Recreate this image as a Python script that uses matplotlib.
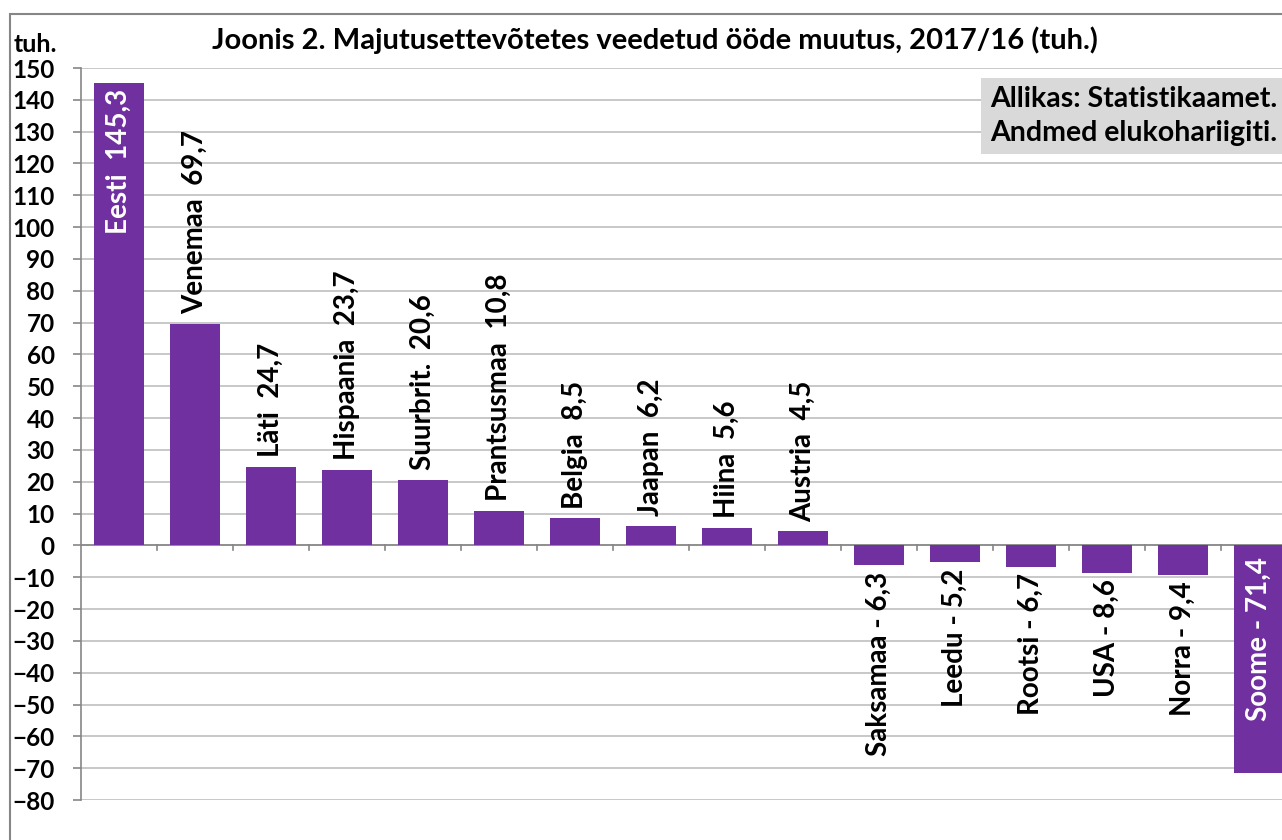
import matplotlib
matplotlib.use('Agg')
import matplotlib.pyplot as plt
import numpy as np
from matplotlib.patches import Rectangle

plt.rcParams['font.family'] = ['Lato', 'DejaVu Sans']
plt.rcParams['font.weight'] = 'bold'

# data
countries = ["Eesti", "Venemaa", "Läti", "Hispaania", "Suurbrit.", "Prantsusmaa",
             "Belgia", "Jaapan", "Hiina", "Austria", "Saksamaa", "Leedu",
             "Rootsi", "USA", "Norra", "Soome"]
values = [145.3, 69.7, 24.7, 23.7, 20.6, 10.8, 8.5, 6.2, 5.6, 4.5,
          -6.3, -5.2, -6.7, -8.6, -9.4, -71.4]

purple = '#7030A0'
grid_col = '#BFBFBF'
lab_fs = 20

fig = plt.figure(figsize=(12.82, 8.4), dpi=100)
ax = fig.add_axes([81 / 1282, 1 - 800 / 840, 1216 / 1282, 732 / 840])

x = np.arange(len(values))
ax.bar(x, values, width=0.66, color=purple, zorder=3)

for i, (c, v) in enumerate(zip(countries, values)):
    if v >= 0:
        txt = c + "  " + ("%.1f" % v).replace(".", ",")
    else:
        txt = c + " - " + ("%.1f" % -v).replace(".", ",")
    if c == "Eesti":
        ax.text(i, v - 2, txt, rotation=90, ha='center', va='top', color='white',
                fontsize=lab_fs, fontweight='bold', zorder=4)
    elif c == "Soome":
        ax.text(i, -3.5, txt, rotation=90, ha='center', va='top', color='white',
                fontsize=lab_fs, fontweight='bold', zorder=4)
    elif v >= 0:
        ax.text(i, v + 3, txt, rotation=90, ha='center', va='bottom', color='black',
                fontsize=lab_fs, fontweight='bold', zorder=4)
    else:
        ax.text(i, v - 2, txt, rotation=90, ha='center', va='top', color='black',
                fontsize=lab_fs, fontweight='bold', zorder=4)

ax.set_xlim(-0.5, len(values) - 0.5)
ax.set_ylim(-80, 150)
ax.set_yticks(np.arange(-80, 151, 10))
ax.yaxis.grid(True, color=grid_col, linewidth=1.2, zorder=0)
ax.set_axisbelow(True)
for s in ['top', 'right', 'bottom']:
    ax.spines[s].set_visible(False)
ax.spines['left'].set_color('#868686')
ax.spines['left'].set_linewidth(1.2)
ax.tick_params(axis='y', length=6, width=1.2, color='#868686', pad=13, labelsize=17.5)
for lab in ax.get_yticklabels():
    lab.set_fontweight('bold')

# x axis line at zero with ticks between categories
ax.axhline(0, color='#868686', linewidth=1.2, zorder=2)
ax.set_xticks([])
for b in np.arange(0.5, len(values) - 0.5, 1):
    ax.plot([b, b], [0, -1.3], color='#868686', linewidth=1.2, zorder=2, clip_on=False)

fig.text(655 / 1282, 1 - 40 / 840,
         "Joonis 2. Majutusettevõtetes veedetud ööde muutus, 2017/16 (tuh.)",
         fontsize=21, fontweight='bold', ha='center', va='center')
fig.text(14 / 1282, 1 - 45 / 840, "tuh.", fontsize=18, fontweight='bold',
         ha='left', va='center')

fig.text(1277 / 1282, 1 - 116 / 840, "Allikas: Statistikaamet.\nAndmed elukohariigiti.",
         fontsize=20.5, fontweight='bold', ha='right', va='center', linespacing=1.35,
         bbox=dict(boxstyle='square,pad=0.3', facecolor='#D9D9D9', edgecolor='none'),
         zorder=5)

# outer chart frame
fig.patches.append(Rectangle((10 / 1282, -0.1), 1.1, 1 - 14 / 840 + 0.1,
                             transform=fig.transFigure, fill=False,
                             edgecolor='#868686', linewidth=1.5))

fig.savefig('out.png', dpi=100)
